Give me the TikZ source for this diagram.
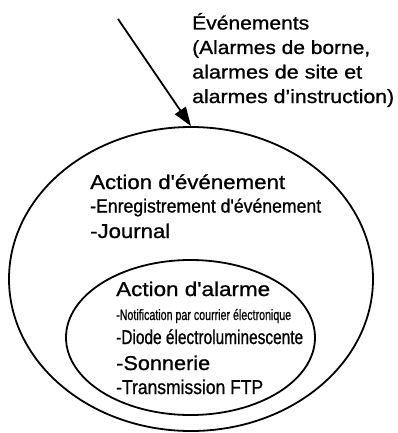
\documentclass[tikz,border=0pt]{standalone}
\usepackage{fontspec}
\usepackage{graphicx}
\usetikzlibrary{shapes.geometric,arrows.meta}
\newfontfamily\helv{Liberation Sans}[FakeBold=0.9]
% stretch a line of text to a given width, keeping its height
\newcommand{\fitw}[2]{\resizebox{#1}{\height}{#2}}
\begin{document}
\begin{tikzpicture}[
    x=1pt,y=-1pt,
    setRing/.style={ellipse,draw=black,line width=1.8pt,inner sep=0pt},
    setText/.style={anchor=base west,inner sep=0pt,font=\helv\fontsize{20}{24}\selectfont},
    evtText/.style={anchor=base west,inner sep=0pt,font=\helv\fontsize{19}{24}\selectfont},
    evtArrow/.style={-{Triangle[length=19pt,width=13pt]},line width=1.8pt},
]
\useasboundingbox (0,0) rectangle (398,433);
% === ensembles ===
\node[setRing,minimum width=364pt,minimum height=304pt] (evtSet) at (191,279) {};
\node[setRing,minimum width=249pt,minimum height=155pt] (almSet) at (190.5,337.5) {};
% === événements (top right) ===
\coordinate (evtSrc) at (118,19);
\node[evtText] (evt1) at (192,29.5) {\fitw{117pt}{Événements}};
\node[evtText] (evt2) at (192,54) {\fitw{178pt}{(Alarmes de borne,}};
\node[evtText] (evt3) at (192,78.5) {\fitw{170pt}{alarmes de site et}};
\node[evtText] (evt4) at (192,103) {\fitw{202pt}{alarmes d’instruction)}};
\draw[evtArrow] (evtSrc) -- (evtSet.north);
% === action d'événement ===
\node[setText] (evtAct) at (90,189) {\fitw{195pt}{Action d'événement}};
\node[setText,font=\helv\fontsize{19}{24}\selectfont] (evtLog) at (90,212.5) {\fitw{231pt}{-Enregistrement d'événement}};
\node[setText] (evtJrn) at (90,238) {\fitw{80pt}{-Journal}};
% === action d'alarme ===
\node[setText] (almAct) at (116,296) {\fitw{154pt}{Action d'alarme}};
\node[setText,font=\helv\fontsize{15}{18}\selectfont] (almMail) at (116,320) {\fitw{175pt}{-Notification par courrier électronique}};
\node[setText] (almLed) at (116,344) {\fitw{187pt}{-Diode électroluminescente}};
\node[setText] (almBell) at (116,370) {\fitw{94pt}{-Sonnerie}};
\node[setText] (almFtp) at (116,394) {\fitw{147pt}{-Transmission FTP}};
\end{tikzpicture}
\end{document}
